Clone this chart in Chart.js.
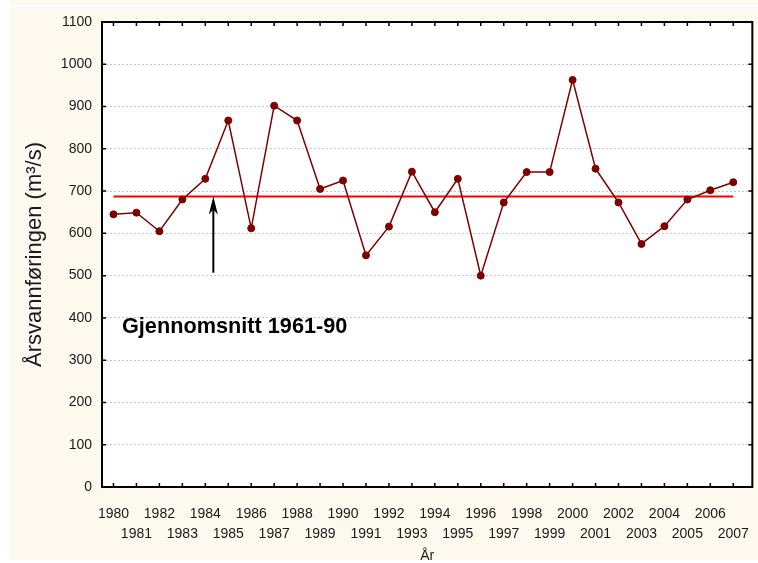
<!DOCTYPE html>
<html>
<head>
<meta charset="utf-8">
<script src="https://cdn.jsdelivr.net/npm/chart.js@4.4.1/dist/chart.umd.min.js"></script>
<style>
  html, body { margin: 0; padding: 0; background: #fff; }
  canvas { display: block; }
</style>
</head>
<body>
<canvas id="flowChart" width="758" height="563"></canvas>
<script>
// årlig vannføring, lest av figuren
const years = [1980, 1981, 1982, 1983, 1984, 1985, 1986, 1987, 1988, 1989,
  1990, 1991, 1992, 1993, 1994, 1995, 1996, 1997, 1998, 1999,
  2000, 2001, 2002, 2003, 2004, 2005, 2006, 2007];
const flow = [645, 649, 605, 680, 729, 867, 612, 902, 867, 705,
  725, 548, 616, 746, 650, 729, 500, 673, 745, 745,
  963, 753, 673, 575, 617, 680, 702, 721];

// gjennomsnitt 1961-90
const avgValue = 687;
const avgYears = [1980, 2007];

// pil og tekst
const arrowYear = 1984.35;
const arrowFrom = 507;
const arrowTo = 687;
const noteText = 'Gjennomsnitt 1961-90';
const noteYear = 1980.37;
const noteValue = 364;

const yTicks = [0, 100, 200, 300, 400, 500, 600, 700, 800, 900, 1000, 1100];

const cream = '#fdf9ee';

const backdrop = {
  id: 'backdrop',
  beforeDraw(chart) {
    const ctx = chart.ctx;
    const a = chart.chartArea;
    ctx.save();
    ctx.fillStyle = '#ffffff';
    ctx.fillRect(0, 0, chart.width, chart.height);
    ctx.fillStyle = cream;
    ctx.fillRect(10, 0, chart.width - 10, 5);
    ctx.fillRect(10, 7, chart.width - 10, 553);
    ctx.fillStyle = '#ffffff';
    ctx.fillRect(a.left, a.top, a.right - a.left, a.bottom - a.top);
    ctx.restore();
  }
};

const frame = {
  id: 'frame',
  afterDatasetsDraw(chart) {
    const ctx = chart.ctx;
    const a = chart.chartArea;
    const xs = chart.scales.x;
    const ys = chart.scales.y;
    ctx.save();

    // pil mot gjennomsnittslinjen
    const ax = xs.getPixelForValue(arrowYear);
    const ay0 = ys.getPixelForValue(arrowFrom);
    const ay1 = ys.getPixelForValue(arrowTo);
    ctx.strokeStyle = '#000';
    ctx.fillStyle = '#000';
    ctx.lineWidth = 2;
    ctx.beginPath();
    ctx.moveTo(ax, ay0);
    ctx.lineTo(ax, ay1 + 10);
    ctx.stroke();
    ctx.beginPath();
    ctx.moveTo(ax, ay1);
    ctx.lineTo(ax + 4.5, ay1 + 18);
    ctx.lineTo(ax, ay1 + 13);
    ctx.lineTo(ax - 4.5, ay1 + 18);
    ctx.closePath();
    ctx.fill();

    ctx.font = 'bold 21.7px "Liberation Sans", Arial, sans-serif';
    ctx.textBaseline = 'alphabetic';
    ctx.textAlign = 'left';
    ctx.fillText(noteText, xs.getPixelForValue(noteYear), ys.getPixelForValue(noteValue));

    // ramme og innvendige tikker
    ctx.lineWidth = 1.5;
    ctx.beginPath();
    years.forEach(v => {
      const px = xs.getPixelForValue(v);
      ctx.moveTo(px, a.top); ctx.lineTo(px, a.top + 4);
      ctx.moveTo(px, a.bottom); ctx.lineTo(px, a.bottom - 4);
    });
    yTicks.forEach(v => {
      const py = ys.getPixelForValue(v);
      ctx.moveTo(a.left, py); ctx.lineTo(a.left + 4, py);
      ctx.moveTo(a.right, py); ctx.lineTo(a.right - 4, py);
    });
    ctx.stroke();
    ctx.lineWidth = 2;
    ctx.strokeRect(a.left, a.top, a.right - a.left, a.bottom - a.top);
    ctx.restore();
  }
};

new Chart(document.getElementById('flowChart'), {
  type: 'line',
  data: {
    datasets: [
      {
        label: 'Årsvannføring',
        data: years.map((y, i) => ({ x: y, y: flow[i] })),
        borderColor: '#800000',
        backgroundColor: '#800000',
        borderWidth: 1.5,
        pointRadius: 3.5,
        pointBorderWidth: 1,
        pointBackgroundColor: '#800000',
        pointBorderColor: '#800000',
        tension: 0
      },
      {
        label: 'Gjennomsnitt 1961-90',
        data: avgYears.map(y => ({ x: y, y: avgValue })),
        borderColor: '#ff0000',
        borderWidth: 2,
        pointRadius: 0,
        tension: 0
      }
    ]
  },
  options: {
    responsive: false,
    animation: false,
    devicePixelRatio: 1,
    layout: { padding: { top: 22, right: 5, left: 0, bottom: 0 } },
    plugins: {
      legend: { display: false },
      tooltip: { enabled: false }
    },
    scales: {
      x: {
        type: 'linear',
        min: 1979.5,
        max: 2007.83,
        afterBuildTicks: scale => { scale.ticks = years.map(v => ({ value: v })); },
        afterFit: scale => { scale.height = 76; },
        grid: { display: false },
        border: { display: false },
        ticks: {
          autoSkip: false,
          maxRotation: 0,
          padding: 9,
          color: '#1a1a1a',
          font: { family: '"Liberation Sans", Arial, sans-serif', size: 14, lineHeight: 1.43 },
          callback: v => (v % 2 === 0 ? [String(v), ''] : ['', String(v)])
        },
        title: {
          display: true,
          text: 'År',
          color: '#1a1a1a',
          padding: { top: 0, bottom: 0 },
          font: { family: '"Liberation Sans", Arial, sans-serif', size: 14, lineHeight: 1 }
        }
      },
      y: {
        min: 0,
        max: 1100,
        afterBuildTicks: scale => { scale.ticks = yTicks.map(v => ({ value: v })); },
        afterFit: scale => { scale.width = 102; },
        grid: { color: '#c8c8c8', lineWidth: 1, drawTicks: false },
        border: { display: false, dash: [2, 2] },
        ticks: {
          padding: 10,
          color: '#1a1a1a',
          font: { family: '"Liberation Sans", Arial, sans-serif', size: 14 },
          callback: v => String(v)
        },
        title: {
          display: true,
          text: 'Årsvannføringen (m³/s)',
          color: '#1a1a1a',
          padding: { top: 22, bottom: 0 },
          font: { family: '"Liberation Sans", Arial, sans-serif', size: 22, lineHeight: 1.2 }
        }
      }
    }
  },
  plugins: [backdrop, frame]
});
</script>
</body>
</html>
